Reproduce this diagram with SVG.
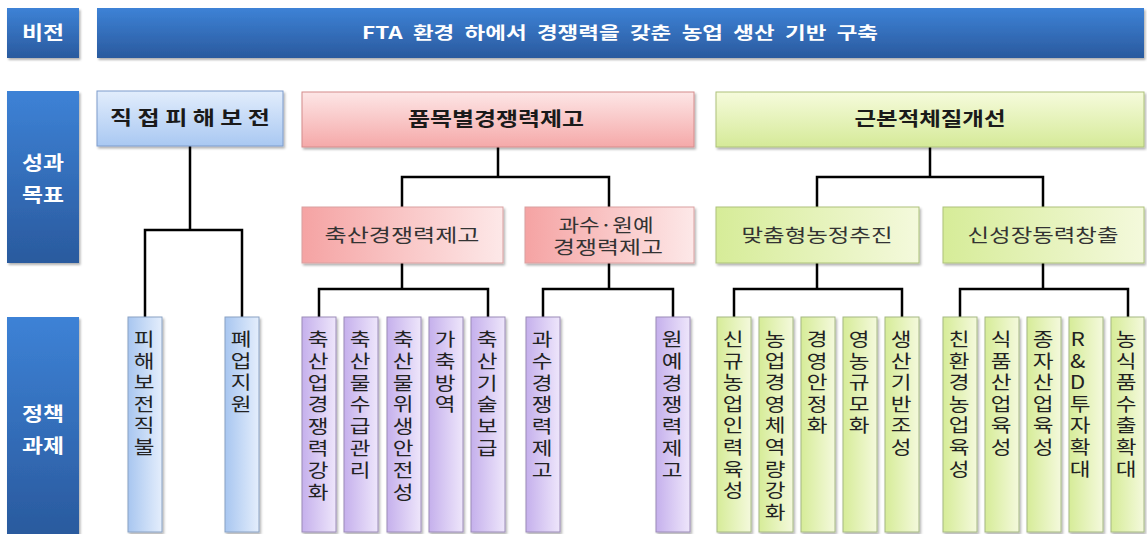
<svg xmlns="http://www.w3.org/2000/svg" width="1147" height="534" viewBox="0 0 1147 534">
<defs>
<linearGradient id="gBlueDark" x1="0" y1="0" x2="0" y2="1"><stop offset="0" stop-color="#3d82d6"/><stop offset="1" stop-color="#2a5a9e"/></linearGradient>
<linearGradient id="gBlueLight" x1="0" y1="0" x2="0" y2="1"><stop offset="0" stop-color="#e2edfc"/><stop offset="1" stop-color="#a9c8f2"/></linearGradient>
<linearGradient id="gPinkV" x1="0" y1="0" x2="0" y2="1"><stop offset="0" stop-color="#fde6e6"/><stop offset="1" stop-color="#f5a9a9"/></linearGradient>
<linearGradient id="gPinkH" x1="0" y1="0" x2="1" y2="0"><stop offset="0" stop-color="#f5a3a3"/><stop offset="1" stop-color="#fde8e8"/></linearGradient>
<linearGradient id="gGreenV" x1="0" y1="0" x2="0" y2="1"><stop offset="0" stop-color="#f6fbdc"/><stop offset="1" stop-color="#d5ea98"/></linearGradient>
<linearGradient id="gGreenH" x1="0" y1="0" x2="1" y2="0"><stop offset="0" stop-color="#d6ec98"/><stop offset="1" stop-color="#f4f9dc"/></linearGradient>
<linearGradient id="gBlueH" x1="0" y1="0" x2="1" y2="0"><stop offset="0" stop-color="#a8c6f0"/><stop offset="1" stop-color="#e4eefc"/></linearGradient>
<linearGradient id="gPurpleH" x1="0" y1="0" x2="1" y2="0"><stop offset="0" stop-color="#c5b0ec"/><stop offset="1" stop-color="#eee6fb"/></linearGradient>
<filter id="sh" x="-10%" y="-10%" width="130%" height="130%"><feDropShadow dx="1.5" dy="2" stdDeviation="1.2" flood-color="#000" flood-opacity="0.3"/></filter>
</defs>
<style>
text{font-family:"Noto Sans CJK KR","Noto Sans",sans-serif;}
.lbl{fill:#fff;font-weight:bold;font-size:19px;text-anchor:middle;}
.banner{fill:#fff;font-weight:bold;font-size:17px;text-anchor:middle;word-spacing:4px;}
.h1{fill:#1a1a1a;font-weight:bold;font-size:19px;text-anchor:middle;}
.h2{fill:#333;font-size:18.5px;text-anchor:middle;}
.v{fill:#222;font-size:18.5px;text-anchor:middle;}
.box{filter:url(#sh);stroke-width:1;}
.dark{fill:url(#gBlueDark);}
.bl{fill:url(#gBlueLight);stroke:#7d9ccc;}
.pk{fill:url(#gPinkV);stroke:#d48c8c;}
.pkh{fill:url(#gPinkH);stroke:#d9a0a0;}
.gr{fill:url(#gGreenV);stroke:#adc27a;}
.grh{fill:url(#gGreenH);stroke:#adc27a;}
.vb{fill:url(#gBlueH);stroke:#8aa2c4;}
.vp{fill:url(#gPurpleH);stroke:#9c8cb8;}
.vg{fill:url(#gGreenH);stroke:#a6b884;}
.con{fill:none;stroke:#000;stroke-width:2.5;}
</style>
<rect width="1147" height="534" fill="#fff"/>

<g id="label-vision"><rect class="box dark" x="7" y="8" width="72" height="50"/><text class="lbl" x="43" y="40" textLength="42" lengthAdjust="spacingAndGlyphs">비전</text></g>
<g id="banner"><rect class="box dark" x="97" y="8" width="1047" height="50"/><text class="banner" x="620" y="39" textLength="516" lengthAdjust="spacingAndGlyphs">FTA 환경 하에서 경쟁력을 갖춘 농업 생산 기반 구축</text></g>
<g id="label-goal"><rect class="box dark" x="7" y="91" width="72" height="172"/><text class="lbl" x="43" y="170" textLength="42" lengthAdjust="spacingAndGlyphs">성과</text><text class="lbl" x="43" y="202" textLength="42" lengthAdjust="spacingAndGlyphs">목표</text></g>
<g id="label-task"><rect class="box dark" x="7" y="317" width="72" height="217"/><text class="lbl" x="43" y="421" textLength="42" lengthAdjust="spacingAndGlyphs">정책</text><text class="lbl" x="43" y="453" textLength="42" lengthAdjust="spacingAndGlyphs">과제</text></g>

<g id="connectors">
<path class="con" d="M190 146 V230 M145 317 V230 H242 V317"/>
<path class="con" d="M498 147 V177 M402 207 V177 H609 V207"/>
<path class="con" d="M930 147 V177 M817 207 V177 H1043 V207"/>
<path class="con" d="M402 263 V289 M319 317 V289 H488 V317"/>
<path class="con" d="M609 263 V289 M543 317 V289 H673 V317"/>
<path class="con" d="M817 263 V289 M734 317 V289 H902 V317"/>
<path class="con" d="M1043 263 V289 M960 317 V289 H1128 V317"/>
</g>

<g id="goal-direct"><rect class="box bl" x="97" y="91" width="186" height="55"/><text class="h1" x="190" y="125" textLength="160" lengthAdjust="spacingAndGlyphs">직 접 피 해 보 전</text></g>
<g id="goal-item"><rect class="box pk" x="302" y="92" width="392" height="55"/><text class="h1" x="496" y="126" textLength="176" lengthAdjust="spacingAndGlyphs">품목별경쟁력제고</text></g>
<g id="goal-basic"><rect class="box gr" x="716" y="92" width="428" height="55"/><text class="h1" x="930" y="126" textLength="151" lengthAdjust="spacingAndGlyphs">근본적체질개선</text></g>

<g id="sub-livestock"><rect class="box pkh" x="302" y="207" width="201" height="56"/><text class="h2" x="402" y="242" textLength="155" lengthAdjust="spacingAndGlyphs">축산경쟁력제고</text></g>
<g id="sub-fruit"><rect class="box pkh" x="525" y="207" width="169" height="56"/><text class="h2" x="606" y="232" textLength="95" lengthAdjust="spacingAndGlyphs">과수·원예</text><text class="h2" x="608" y="254" textLength="110" lengthAdjust="spacingAndGlyphs">경쟁력제고</text></g>
<g id="sub-custom"><rect class="box grh" x="716" y="207" width="203" height="56"/><text class="h2" x="817" y="242" textLength="151" lengthAdjust="spacingAndGlyphs">맞춤형농정추진</text></g>
<g id="sub-growth"><rect class="box grh" x="943" y="207" width="201" height="56"/><text class="h2" x="1043" y="242" textLength="151" lengthAdjust="spacingAndGlyphs">신성장동력창출</text></g>

<g id="t1"><rect class="box vb" x="128" y="317" width="34" height="215"/><text class="v" transform="matrix(1.22 0 0 1 144 0)"><tspan x="0" y="346">피</tspan><tspan x="0" dy="21.6">해</tspan><tspan x="0" dy="21.6">보</tspan><tspan x="0" dy="21.6">전</tspan><tspan x="0" dy="21.6">직</tspan><tspan x="0" dy="21.6">불</tspan></text></g>
<g id="t2"><rect class="box vb" x="225" y="317" width="34" height="215"/><text class="v" transform="matrix(1.22 0 0 1 241 0)"><tspan x="0" y="346">폐</tspan><tspan x="0" dy="21.6">업</tspan><tspan x="0" dy="21.6">지</tspan><tspan x="0" dy="21.6">원</tspan></text></g>

<g id="t3"><rect class="box vp" x="302" y="317" width="34" height="215"/><text class="v" transform="matrix(1.22 0 0 1 318 0)"><tspan x="0" y="346">축</tspan><tspan x="0" dy="21.8">산</tspan><tspan x="0" dy="21.8">업</tspan><tspan x="0" dy="21.8">경</tspan><tspan x="0" dy="21.8">쟁</tspan><tspan x="0" dy="21.8">력</tspan><tspan x="0" dy="21.8">강</tspan><tspan x="0" dy="21.8">화</tspan></text></g>
<g id="t4"><rect class="box vp" x="344" y="317" width="34" height="215"/><text class="v" transform="matrix(1.22 0 0 1 360 0)"><tspan x="0" y="346">축</tspan><tspan x="0" dy="21.8">산</tspan><tspan x="0" dy="21.8">물</tspan><tspan x="0" dy="21.8">수</tspan><tspan x="0" dy="21.8">급</tspan><tspan x="0" dy="21.8">관</tspan><tspan x="0" dy="21.8">리</tspan></text></g>
<g id="t5"><rect class="box vp" x="387" y="317" width="34" height="215"/><text class="v" transform="matrix(1.22 0 0 1 403 0)"><tspan x="0" y="346">축</tspan><tspan x="0" dy="21.8">산</tspan><tspan x="0" dy="21.8">물</tspan><tspan x="0" dy="21.8">위</tspan><tspan x="0" dy="21.8">생</tspan><tspan x="0" dy="21.8">안</tspan><tspan x="0" dy="21.8">전</tspan><tspan x="0" dy="21.8">성</tspan></text></g>
<g id="t6"><rect class="box vp" x="429" y="317" width="34" height="215"/><text class="v" transform="matrix(1.22 0 0 1 445 0)"><tspan x="0" y="346">가</tspan><tspan x="0" dy="21.8">축</tspan><tspan x="0" dy="21.8">방</tspan><tspan x="0" dy="21.8">역</tspan></text></g>
<g id="t7"><rect class="box vp" x="471" y="317" width="34" height="215"/><text class="v" transform="matrix(1.22 0 0 1 487 0)"><tspan x="0" y="346">축</tspan><tspan x="0" dy="21.8">산</tspan><tspan x="0" dy="21.8">기</tspan><tspan x="0" dy="21.8">술</tspan><tspan x="0" dy="21.8">보</tspan><tspan x="0" dy="21.8">급</tspan></text></g>
<g id="t8"><rect class="box vp" x="526" y="317" width="34" height="215"/><text class="v" transform="matrix(1.22 0 0 1 542 0)"><tspan x="0" y="346">과</tspan><tspan x="0" dy="21.8">수</tspan><tspan x="0" dy="21.8">경</tspan><tspan x="0" dy="21.8">쟁</tspan><tspan x="0" dy="21.8">력</tspan><tspan x="0" dy="21.8">제</tspan><tspan x="0" dy="21.8">고</tspan></text></g>
<g id="t9"><rect class="box vp" x="656" y="317" width="34" height="215"/><text class="v" transform="matrix(1.22 0 0 1 672 0)"><tspan x="0" y="346">원</tspan><tspan x="0" dy="21.8">예</tspan><tspan x="0" dy="21.8">경</tspan><tspan x="0" dy="21.8">쟁</tspan><tspan x="0" dy="21.8">력</tspan><tspan x="0" dy="21.8">제</tspan><tspan x="0" dy="21.8">고</tspan></text></g>

<g id="t10"><rect class="box vg" x="717" y="317" width="34" height="215"/><text class="v" transform="matrix(1.22 0 0 1 733 0)"><tspan x="0" y="346">신</tspan><tspan x="0" dy="21.6">규</tspan><tspan x="0" dy="21.6">농</tspan><tspan x="0" dy="21.6">업</tspan><tspan x="0" dy="21.6">인</tspan><tspan x="0" dy="21.6">력</tspan><tspan x="0" dy="21.6">육</tspan><tspan x="0" dy="21.6">성</tspan></text></g>
<g id="t11"><rect class="box vg" x="759" y="317" width="34" height="215"/><text class="v" transform="matrix(1.22 0 0 1 775 0)"><tspan x="0" y="346">농</tspan><tspan x="0" dy="21.6">업</tspan><tspan x="0" dy="21.6">경</tspan><tspan x="0" dy="21.6">영</tspan><tspan x="0" dy="21.6">체</tspan><tspan x="0" dy="21.6">역</tspan><tspan x="0" dy="21.6">량</tspan><tspan x="0" dy="21.6">강</tspan><tspan x="0" dy="21.6">화</tspan></text></g>
<g id="t12"><rect class="box vg" x="801" y="317" width="34" height="215"/><text class="v" transform="matrix(1.22 0 0 1 817 0)"><tspan x="0" y="346">경</tspan><tspan x="0" dy="21.6">영</tspan><tspan x="0" dy="21.6">안</tspan><tspan x="0" dy="21.6">정</tspan><tspan x="0" dy="21.6">화</tspan></text></g>
<g id="t13"><rect class="box vg" x="843" y="317" width="34" height="215"/><text class="v" transform="matrix(1.22 0 0 1 859 0)"><tspan x="0" y="346">영</tspan><tspan x="0" dy="21.6">농</tspan><tspan x="0" dy="21.6">규</tspan><tspan x="0" dy="21.6">모</tspan><tspan x="0" dy="21.6">화</tspan></text></g>
<g id="t14"><rect class="box vg" x="885" y="317" width="34" height="215"/><text class="v" transform="matrix(1.22 0 0 1 901 0)"><tspan x="0" y="346">생</tspan><tspan x="0" dy="21.6">산</tspan><tspan x="0" dy="21.6">기</tspan><tspan x="0" dy="21.6">반</tspan><tspan x="0" dy="21.6">조</tspan><tspan x="0" dy="21.6">성</tspan></text></g>
<g id="t15"><rect class="box vg" x="943" y="317" width="34" height="215"/><text class="v" transform="matrix(1.22 0 0 1 959 0)"><tspan x="0" y="346">친</tspan><tspan x="0" dy="21.6">환</tspan><tspan x="0" dy="21.6">경</tspan><tspan x="0" dy="21.6">농</tspan><tspan x="0" dy="21.6">업</tspan><tspan x="0" dy="21.6">육</tspan><tspan x="0" dy="21.6">성</tspan></text></g>
<g id="t16"><rect class="box vg" x="985" y="317" width="34" height="215"/><text class="v" transform="matrix(1.22 0 0 1 1001 0)"><tspan x="0" y="346">식</tspan><tspan x="0" dy="21.6">품</tspan><tspan x="0" dy="21.6">산</tspan><tspan x="0" dy="21.6">업</tspan><tspan x="0" dy="21.6">육</tspan><tspan x="0" dy="21.6">성</tspan></text></g>
<g id="t17"><rect class="box vg" x="1027" y="317" width="34" height="215"/><text class="v" transform="matrix(1.22 0 0 1 1043 0)"><tspan x="0" y="346">종</tspan><tspan x="0" dy="21.6">자</tspan><tspan x="0" dy="21.6">산</tspan><tspan x="0" dy="21.6">업</tspan><tspan x="0" dy="21.6">육</tspan><tspan x="0" dy="21.6">성</tspan></text></g>
<g id="t18"><rect class="box vg" x="1069" y="317" width="34" height="215"/><text class="v" transform="matrix(1.22 0 0 1 1080 0)"><tspan x="-2" y="346">R</tspan><tspan x="-2" dy="21.6">&amp;</tspan><tspan x="-2" dy="21.6">D</tspan><tspan x="0" dy="21.6">투</tspan><tspan x="0" dy="21.6">자</tspan><tspan x="0" dy="21.6">확</tspan><tspan x="0" dy="21.6">대</tspan></text></g>
<g id="t19"><rect class="box vg" x="1111" y="317" width="33" height="215"/><text class="v" transform="matrix(1.22 0 0 1 1126 0)"><tspan x="0" y="346">농</tspan><tspan x="0" dy="21.6">식</tspan><tspan x="0" dy="21.6">품</tspan><tspan x="0" dy="21.6">수</tspan><tspan x="0" dy="21.6">출</tspan><tspan x="0" dy="21.6">확</tspan><tspan x="0" dy="21.6">대</tspan></text></g>
</svg>
